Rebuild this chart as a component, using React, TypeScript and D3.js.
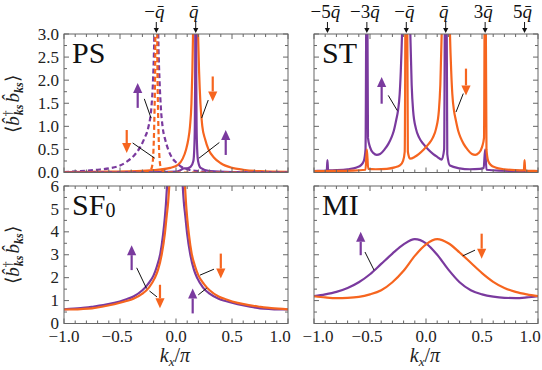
import React from 'react';
import * as d3 from 'd3';

const PURPLE = '#7a3a9e';
const ORANGE = '#f6651f';
const FRAME = '#666';
const SERIF = '"Liberation Serif", "Times New Roman", serif';

const qbar = 0.176;
const psMarkers = [-1, 1];
const psMarkerLabels = ['−', ''];
const stMarkers = [-5, -3, -1, 1, 3, 5];
const stMarkerLabels = ['−5', '−3', '−', '', '3', '5'];

const xTicks = [-1, -0.5, 0, 0.5, 1];
const xTickLabels = ['−1.0', '−0.5', '0.0', '0.5', '1.0'];
const topYTicks = [0, 0.5, 1, 1.5, 2, 2.5, 3];
const topYTickLabels = ['0.0', '0.5', '1.0', '1.5', '2.0', '2.5', '3.0'];
const botYTicks = [0, 1, 2, 3, 4, 5, 6];
const botYTickLabels = ['0', '1', '2', '3', '4', '5', '6'];

// PS panel
const psOrangeSolid: [number, number][] = [
  [-1, 0.01], [-0.6, 0.02], [-0.35, 0.03], [-0.2, 0.05], [-0.05, 0.1], [0.02, 0.17], [0.06, 0.3],
  [0.09, 0.5], [0.11, 0.72], [0.125, 1.0], [0.138, 1.5], [0.146, 2.2], [0.152, 3.0], [0.176, 7],
  [0.197, 3.0], [0.206, 2.2], [0.218, 1.5], [0.235, 1.0], [0.26, 0.72], [0.29, 0.5], [0.34, 0.32],
  [0.4, 0.2], [0.5, 0.1], [0.6, 0.06], [0.75, 0.03], [1, 0.015],
];
const psPurpleSolid: [number, number][] = [
  [-1, 0], [-0.3, 0.005], [0, 0.02], [0.04, 0.05], [0.07, 0.09], [0.1, 0.09], [0.13, 0.12],
  [0.155, 0.25], [0.163, 0.5], [0.168, 1.0], [0.171, 2.0], [0.176, 8], [0.181, 2.0], [0.184, 1.0],
  [0.189, 0.5], [0.197, 0.25], [0.22, 0.1], [0.3, 0.03], [0.5, 0.01], [1, 0],
];
const psPurpleDashed: [number, number][] = [
  [-1, 0.01], [-0.85, 0.03], [-0.7, 0.06], [-0.6, 0.09], [-0.5, 0.15], [-0.43, 0.25], [-0.37, 0.38],
  [-0.32, 0.55], [-0.28, 0.75], [-0.245, 1.0], [-0.22, 1.4], [-0.205, 2.0], [-0.195, 2.8], [-0.176, 7],
  [-0.157, 2.8], [-0.147, 2.0], [-0.135, 1.4], [-0.12, 1.0], [-0.095, 0.7], [-0.07, 0.5], [-0.03, 0.3],
  [0.01, 0.2], [0.05, 0.12], [0.1, 0.07], [0.2, 0.03], [0.4, 0.01], [1, 0],
];
const psOrangeDashed: [number, number][] = [
  [-1, 0], [-0.35, 0], [-0.26, 0.01], [-0.23, 0.04], [-0.215, 0.12], [-0.205, 0.3], [-0.198, 0.7],
  [-0.192, 1.3], [-0.186, 2.3], [-0.176, 7], [-0.166, 2.3], [-0.16, 1.3], [-0.154, 0.7], [-0.147, 0.3],
  [-0.137, 0.12], [-0.122, 0.04], [-0.09, 0.01], [0, 0], [1, 0],
];

// ST panel
const stPurple: [number, number][] = [
  [-1, 0.03], [-0.95, 0.035], [-0.886, 0.04], [-0.88, 0.27], [-0.874, 0.045], [-0.8, 0.05], [-0.7, 0.07],
  [-0.62, 0.11], [-0.58, 0.16], [-0.555, 0.25], [-0.54, 0.5], [-0.528, 6], [-0.518, 0.75], [-0.5, 0.55],
  [-0.47, 0.42], [-0.44, 0.38], [-0.41, 0.4], [-0.37, 0.5], [-0.336, 0.62], [-0.31, 0.75], [-0.288, 0.9],
  [-0.265, 1.15], [-0.25, 1.34], [-0.235, 1.7], [-0.225, 2.2], [-0.214, 3.0], [-0.195, 5.5], [-0.176, 7],
  [-0.157, 5.5], [-0.14, 3.0], [-0.128, 1.9], [-0.115, 1.34], [-0.09, 0.95], [-0.06, 0.75], [-0.024, 0.62],
  [0.02, 0.5], [0.065, 0.4], [0.1, 0.34], [0.14, 0.28], [0.162, 0.5], [0.176, 8], [0.19, 0.4],
  [0.214, 0.15], [0.3, 0.09], [0.39, 0.07], [0.48, 0.08], [0.515, 0.1], [0.528, 0.5], [0.54, 0.06],
  [0.65, 0.04], [0.8, 0.035], [1, 0.03],
];
const stOrange: [number, number][] = [
  [-1, 0.03], [-0.8, 0.035], [-0.65, 0.04], [-0.54, 0.06], [-0.528, 0.5], [-0.516, 0.08], [-0.45, 0.07],
  [-0.35, 0.08], [-0.28, 0.11], [-0.23, 0.16], [-0.205, 0.25], [-0.19, 0.45], [-0.176, 8], [-0.162, 0.45],
  [-0.143, 0.3], [-0.1, 0.34], [-0.065, 0.4], [-0.02, 0.5], [0.024, 0.62], [0.06, 0.75], [0.09, 0.95],
  [0.115, 1.34], [0.128, 1.9], [0.14, 3.0], [0.157, 5.5], [0.176, 7], [0.195, 5.5], [0.214, 3.0],
  [0.225, 2.2], [0.235, 1.7], [0.25, 1.34], [0.265, 1.15], [0.288, 0.9], [0.31, 0.75], [0.336, 0.62],
  [0.37, 0.5], [0.41, 0.4], [0.44, 0.38], [0.47, 0.42], [0.5, 0.55], [0.518, 0.75], [0.528, 6],
  [0.54, 0.5], [0.555, 0.25], [0.58, 0.16], [0.62, 0.11], [0.7, 0.07], [0.8, 0.05], [0.874, 0.045],
  [0.88, 0.27], [0.886, 0.04], [0.95, 0.035], [1, 0.03],
];

// SF0 panel
const sfPurple: [number, number][] = [
  [-1, 0.62], [-0.85, 0.67], [-0.75, 0.73], [-0.65, 0.8], [-0.55, 0.9], [-0.45, 1.05], [-0.38, 1.18],
  [-0.3, 1.45], [-0.25, 1.72], [-0.2, 2.1], [-0.17, 2.5], [-0.14, 3.05], [-0.115, 3.9], [-0.1, 4.6],
  [-0.09, 5.2], [-0.08, 6.0], [-0.068, 7.2], [-0.01, 12], [0.048, 7.2], [0.06, 6.0], [0.07, 5.3],
  [0.083, 4.7], [0.1, 3.9], [0.128, 3.0], [0.16, 2.35], [0.19, 1.98], [0.24, 1.58], [0.3, 1.3],
  [0.38, 1.08], [0.45, 0.97], [0.55, 0.84], [0.65, 0.74], [0.75, 0.66], [0.85, 0.63], [1, 0.61],
];
const sfOrange: [number, number][] = [
  [-1, 0.61], [-0.85, 0.63], [-0.75, 0.66], [-0.65, 0.74], [-0.55, 0.84], [-0.45, 0.97], [-0.38, 1.08],
  [-0.3, 1.3], [-0.24, 1.58], [-0.19, 1.98], [-0.16, 2.35], [-0.128, 3.0], [-0.1, 3.9], [-0.083, 4.7],
  [-0.07, 5.3], [-0.06, 6.0], [-0.048, 7.2], [0.01, 12], [0.068, 7.2], [0.08, 6.0], [0.09, 5.2],
  [0.1, 4.6], [0.115, 3.9], [0.14, 3.05], [0.17, 2.5], [0.2, 2.1], [0.25, 1.72], [0.3, 1.45],
  [0.38, 1.18], [0.45, 1.05], [0.55, 0.9], [0.65, 0.8], [0.75, 0.73], [0.85, 0.67], [1, 0.62],
];

// MI panel
const miPurple: [number, number][] = [
  [-1, 1.19], [-0.9, 1.27], [-0.8, 1.38], [-0.7, 1.55], [-0.6, 1.8], [-0.5, 2.15], [-0.4, 2.6],
  [-0.3, 3.05], [-0.2, 3.45], [-0.1, 3.68], [0, 3.5], [0.1, 3.0], [0.2, 2.35], [0.3, 1.8], [0.4, 1.45],
  [0.5, 1.27], [0.6, 1.17], [0.7, 1.12], [0.8, 1.11], [0.9, 1.14], [1, 1.19],
];
const miOrange: [number, number][] = [
  [-1, 1.19], [-0.9, 1.14], [-0.8, 1.11], [-0.7, 1.12], [-0.6, 1.16], [-0.5, 1.27], [-0.4, 1.45],
  [-0.3, 1.8], [-0.2, 2.3], [-0.1, 2.95], [0, 3.45], [0.1, 3.68], [0.2, 3.5], [0.3, 3.1], [0.4, 2.65],
  [0.5, 2.2], [0.6, 1.82], [0.7, 1.55], [0.8, 1.38], [0.9, 1.27], [1, 1.19],
];

type Series = { data: [number, number][]; color: string; dashed?: boolean };
// arrow: x, tail y, tip y ; leader: x1,y1,x2,y2 (data units)
type Ann = { color: string; x: number; tail: number; tip: number; leader: [number, number, number, number] };

interface PanelDef {
  key: string;
  x0: number; x1: number; y0: number; y1: number;
  ymax: number;
  yTicks: number[]; yLabels: string[] | null;
  yMinor: number;
  showX: boolean;
  series: Series[];
  anns: Ann[];
  markers: number[] | null; markerLabels: string[] | null;
}

const panels: PanelDef[] = [
  {
    key: 'PS', x0: 64, x1: 288, y0: 34, y1: 172.5, ymax: 3,
    yTicks: topYTicks, yLabels: topYTickLabels, yMinor: 0.25, showX: false,
    series: [
      { data: psOrangeSolid, color: ORANGE },
      { data: psPurpleSolid, color: PURPLE },
      { data: psPurpleDashed, color: PURPLE, dashed: true },
      { data: psOrangeDashed, color: ORANGE, dashed: true },
    ],
    anns: [
      { color: PURPLE, x: -0.342, tail: 1.40, tip: 1.94, leader: [-0.283, 1.595, -0.223, 1.18] },
      { color: ORANGE, x: -0.44, tail: 0.92, tip: 0.42, leader: [-0.387, 0.64, -0.19, 0.31] },
      { color: ORANGE, x: 0.328, tail: 2.08, tip: 1.54, leader: [0.288, 1.57, 0.229, 1.18] },
      { color: PURPLE, x: 0.444, tail: 0.38, tip: 0.92, leader: [0.387, 0.65, 0.205, 0.31] },
    ],
    markers: psMarkers, markerLabels: psMarkerLabels,
  },
  {
    key: 'ST', x0: 314, x1: 538, y0: 34, y1: 172.5, ymax: 3,
    yTicks: topYTicks, yLabels: null, yMinor: 0.25, showX: false,
    series: [
      { data: stPurple, color: PURPLE },
      { data: stOrange, color: ORANGE },
    ],
    anns: [
      { color: PURPLE, x: -0.396, tail: 1.49, tip: 2.07, leader: [-0.337, 1.67, -0.256, 1.34] },
      { color: ORANGE, x: 0.357, tail: 2.25, tip: 1.67, leader: [0.333, 1.71, 0.268, 1.31] },
    ],
    markers: stMarkers, markerLabels: stMarkerLabels,
  },
  {
    key: 'SF', x0: 64, x1: 288, y0: 186, y1: 323.5, ymax: 6,
    yTicks: botYTicks, yLabels: botYTickLabels, yMinor: 0.5, showX: true,
    series: [
      { data: sfPurple, color: PURPLE },
      { data: sfOrange, color: ORANGE },
    ],
    anns: [
      { color: PURPLE, x: -0.396, tail: 2.33, tip: 3.42, leader: [-0.351, 2.43, -0.263, 1.53] },
      { color: ORANGE, x: -0.143, tail: 1.69, tip: 0.67, leader: [-0.17, 1.16, -0.237, 1.42] },
      { color: ORANGE, x: 0.4, tail: 3.05, tip: 1.96, leader: [0.339, 2.37, 0.214, 2.11] },
      { color: PURPLE, x: 0.149, tail: 0.44, tip: 1.53, leader: [0.199, 1.25, 0.274, 1.54] },
    ],
    markers: null, markerLabels: null,
  },
  {
    key: 'MI', x0: 314, x1: 538, y0: 186, y1: 323.5, ymax: 6,
    yTicks: botYTicks, yLabels: null, yMinor: 0.5, showX: true,
    series: [
      { data: miPurple, color: PURPLE },
      { data: miOrange, color: ORANGE },
    ],
    anns: [
      { color: PURPLE, x: -0.583, tail: 2.98, tip: 4.0, leader: [-0.545, 3.12, -0.464, 2.33] },
      { color: ORANGE, x: 0.497, tail: 3.92, tip: 2.83, leader: [0.4375, 3.2, 0.328, 2.95] },
    ],
    markers: null, markerLabels: null,
  },
];

function Arrow({ x, y1, y2, color, head = 10, hw = 4.6, sw = 2.2 }:
  { x: number; y1: number; y2: number; color: string; head?: number; hw?: number; sw?: number }) {
  const dir = y2 < y1 ? -1 : 1;
  const base = y2 - dir * head;
  return (
    <g>
      <line x1={x} y1={y1} x2={x} y2={base} stroke={color} strokeWidth={sw} />
      <polygon points={`${x - hw},${base} ${x + hw},${base} ${x},${y2}`} fill={color} />
    </g>
  );
}

function Title({ k, x, y }: { k: string; x: number; y: number }) {
  if (k === 'SF') {
    return (
      <text x={x} y={y} fontFamily={SERIF} fontSize={30} fill="#111">
        SF<tspan fontSize={20} dy={2}>0</tspan>
      </text>
    );
  }
  return <text x={x} y={y} fontFamily={SERIF} fontSize={30} fill="#111">{k}</text>;
}

function Panel({ p, idx }: { p: PanelDef; idx: number }) {
  const xs = d3.scaleLinear().domain([-1, 1]).range([p.x0, p.x1]);
  const ys = d3.scaleLinear().domain([0, p.ymax]).range([p.y1, p.y0]);
  const line = d3.line<[number, number]>()
    .x((d) => xs(d[0]))
    .y((d) => ys(d[1]))
    .curve(d3.curveMonotoneX);
  const clipId = `clip-${idx}`;
  const xMinor = d3.range(-10, 11).map((i) => i / 10).filter((v) => Math.abs(v * 2 - Math.round(v * 2)) > 1e-6);
  const nMinorY = Math.round(p.ymax / p.yMinor);
  const yMinor = d3.range(0, nMinorY + 1).map((i) => i * p.yMinor).filter((v) => !p.yTicks.some((t) => Math.abs(t - v) < 1e-6));
  const maj = 5, mnr = 3;
  return (
    <g>
      <defs>
        <clipPath id={clipId}>
          <rect x={p.x0} y={p.y0} width={p.x1 - p.x0} height={p.y1 - p.y0} />
        </clipPath>
      </defs>
      <rect x={p.x0} y={p.y0} width={p.x1 - p.x0} height={p.y1 - p.y0} fill="white" />
      <g clipPath={`url(#${clipId})`}>
        {p.series.map((s, i) => (
          <path key={i} d={line(s.data) || ''} fill="none" stroke={s.color} strokeWidth={2.2}
            strokeDasharray={s.dashed ? '5,3' : undefined} strokeLinejoin="round" />
        ))}
      </g>
      <rect x={p.x0} y={p.y0} width={p.x1 - p.x0} height={p.y1 - p.y0} fill="none" stroke={FRAME} strokeWidth={1} />
      {xTicks.map((t) => (
        <g key={`xt${t}`}>
          <line x1={xs(t)} x2={xs(t)} y1={p.y1} y2={p.y1 - maj} stroke={FRAME} />
          <line x1={xs(t)} x2={xs(t)} y1={p.y0} y2={p.y0 + maj} stroke={FRAME} />
        </g>
      ))}
      {xMinor.map((t) => (
        <g key={`xm${t}`}>
          <line x1={xs(t)} x2={xs(t)} y1={p.y1} y2={p.y1 - mnr} stroke={FRAME} />
          <line x1={xs(t)} x2={xs(t)} y1={p.y0} y2={p.y0 + mnr} stroke={FRAME} />
        </g>
      ))}
      {p.yTicks.map((t) => (
        <g key={`yt${t}`}>
          <line x1={p.x0} x2={p.x0 + maj} y1={ys(t)} y2={ys(t)} stroke={FRAME} />
          <line x1={p.x1} x2={p.x1 - maj} y1={ys(t)} y2={ys(t)} stroke={FRAME} />
        </g>
      ))}
      {yMinor.map((t) => (
        <g key={`ym${t}`}>
          <line x1={p.x0} x2={p.x0 + mnr} y1={ys(t)} y2={ys(t)} stroke={FRAME} />
          <line x1={p.x1} x2={p.x1 - mnr} y1={ys(t)} y2={ys(t)} stroke={FRAME} />
        </g>
      ))}
      {p.yLabels && p.yTicks.map((t, i) => (
        <text key={`yl${t}`} x={p.x0 - 5} y={ys(t)} dy="0.33em" textAnchor="end"
          fontFamily={SERIF} fontSize={17} fill="#222">{p.yLabels![i]}</text>
      ))}
      {p.showX && xTicks.map((t, i) => {
        let dx = 0;
        if (i === xTicks.length - 1) dx = -8;
        if (i === 0 && p.x0 > 100) dx = 4;
        if (i === 1) dx = -3;
        return (
          <text key={`xl${t}`} x={xs(t) + dx} y={341.5} textAnchor="middle"
            fontFamily={SERIF} fontSize={17} fill="#222">{xTickLabels[i]}</text>
        );
      })}
      {p.showX && (
        <text x={(p.x0 + p.x1) / 2 - 1} y={362} textAnchor="middle" fontFamily={SERIF} fontSize={20} fill="#222">
          <tspan fontStyle="italic">k</tspan><tspan fontStyle="italic" fontSize={13} dy={4}>x</tspan>
          <tspan dy={-4}>/</tspan><tspan fontStyle="italic">π</tspan>
        </text>
      )}
      {p.anns.map((a, i) => (
        <g key={`a${i}`}>
          <line x1={xs(a.leader[0])} y1={ys(a.leader[1])} x2={xs(a.leader[2])} y2={ys(a.leader[3])}
            stroke="#111" strokeWidth={1} />
          <Arrow x={xs(a.x)} y1={ys(a.tail)} y2={ys(a.tip)} color={a.color} />
        </g>
      ))}
      {p.markers && p.markers.map((m, i) => {
        const x = xs(m * qbar);
        return (
          <g key={`m${i}`}>
            <Arrow x={x} y1={22} y2={p.y0 - 1} color="#111" head={5} hw={2.6} sw={1} />
            <text x={x - 2} y={17.5} textAnchor="middle" fontFamily={SERIF} fontSize={19} fill="#111">
              {p.markerLabels![i]}<tspan fontStyle="italic">{'q\u0304'}</tspan>
            </text>
          </g>
        );
      })}
      <Title k={p.key} x={p.x0 + 8} y={p.y0 + 29} />
    </g>
  );
}

function YLabel({ x, y }: { x: number; y: number }) {
  return (
    <text transform={`translate(${x},${y}) rotate(-90)`} textAnchor="middle" fontFamily={SERIF} fontSize={19} fill="#222">
      <tspan>⟨</tspan>
      <tspan fontStyle="italic">{'b\u0302'}</tspan>
      <tspan fontSize={12} dy={-7}>†</tspan>
      <tspan fontSize={12} dy={11} dx={-5} fontStyle="italic" fontWeight="bold">ks</tspan>
      <tspan dy={-4} dx={2} fontStyle="italic">{'b\u0302'}</tspan>
      <tspan fontSize={12} dy={4} fontStyle="italic" fontWeight="bold">ks</tspan>
      <tspan dy={-4}>⟩</tspan>
    </text>
  );
}

export default function App() {
  return (
    <svg width={542} height={370} style={{ position: 'absolute', left: 0, top: 0, background: 'white' }}
      xmlns="http://www.w3.org/2000/svg">
      <rect width={542} height={370} fill="white" />
      {panels.map((p, i) => <Panel key={p.key} p={p} idx={i} />)}
      <YLabel x={19} y={104} />
      <YLabel x={19} y={255} />
    </svg>
  );
}
